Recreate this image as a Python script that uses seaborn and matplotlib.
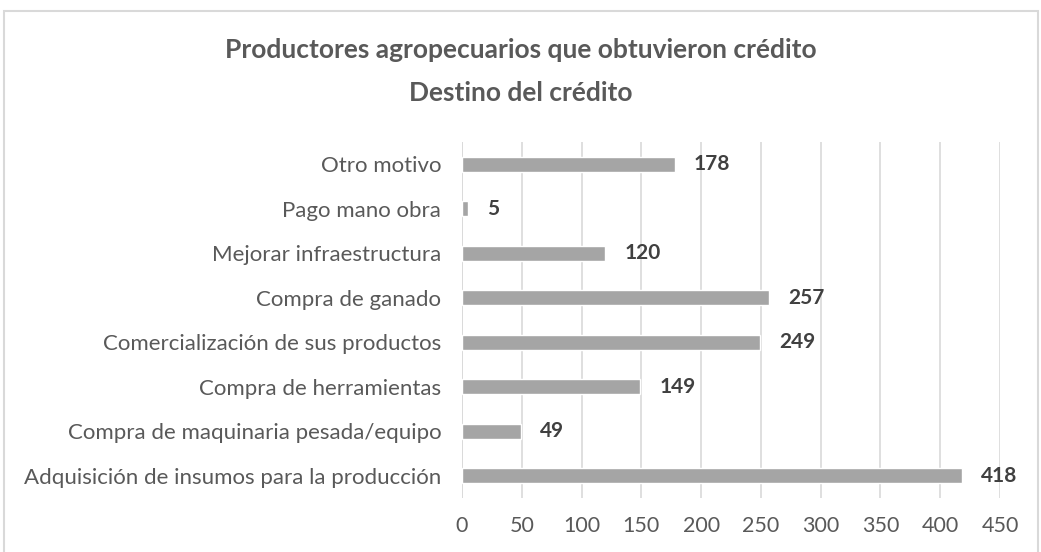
import pandas as pd
import matplotlib
matplotlib.use("Agg")
import matplotlib.pyplot as plt
import seaborn as sns
from matplotlib.patches import Rectangle

categorias = [
    "Otro motivo",
    "Pago mano obra",
    "Mejorar infraestructura",
    "Compra de ganado",
    "Comercialización de sus productos",
    "Compra de herramientas",
    "Compra de maquinaria pesada/equipo",
    "Adquisición de insumos para la producción",
]
productores = [178, 5, 120, 257, 249, 149, 49, 418]
ticks_x = [0, 50, 100, 150, 200, 250, 300, 350, 400, 450]

df = pd.DataFrame({"Destino": categorias, "Productores": productores})

sns.set_theme(style="white")
plt.rcParams["font.family"] = ["Lato", "DejaVu Sans"]

gris_texto = "#595959"

fig = plt.figure(figsize=(10.41, 5.52), dpi=100)
ax = fig.add_axes([0.4438, 0.0978, 0.5168, 0.645])

sns.barplot(data=df, y="Destino", x="Productores", orient="h",
            color="#A5A5A5", width=0.34, saturation=1, ax=ax, zorder=3)

for i, v in enumerate(productores):
    ax.text(v + 16, i, str(v), va="center", ha="left", fontsize=15,
            fontweight="bold", color="#404040")

ax.set_xlim(0, 450)
ax.set_xticks(ticks_x)
ax.grid(axis="x", color="#D9D9D9", linewidth=1.2, zorder=0)
ax.grid(axis="y", visible=False)
for s in ["top", "right", "bottom", "left"]:
    ax.spines[s].set_visible(False)
ax.axvline(0, color="#D9D9D9", linewidth=1.2, zorder=1)
ax.set_xlabel("")
ax.set_ylabel("")
ax.tick_params(axis="y", length=0, pad=15, labelsize=16, labelcolor=gris_texto)
ax.tick_params(axis="x", length=0, pad=13, labelsize=15.5, labelcolor=gris_texto)

fig.text(0.5, 0.909, "Productores agropecuarios que obtuvieron crédito",
         ha="center", va="center", fontsize=19, fontweight="bold", color=gris_texto)
fig.text(0.5, 0.832, "Destino del crédito",
         ha="center", va="center", fontsize=19, fontweight="bold", color=gris_texto)

fig.patches.append(Rectangle((0.004, -0.01), 0.993, 0.99, transform=fig.transFigure,
                             fill=False, edgecolor="#D9D9D9", linewidth=1.5))

fig.savefig("out.png", dpi=100)
